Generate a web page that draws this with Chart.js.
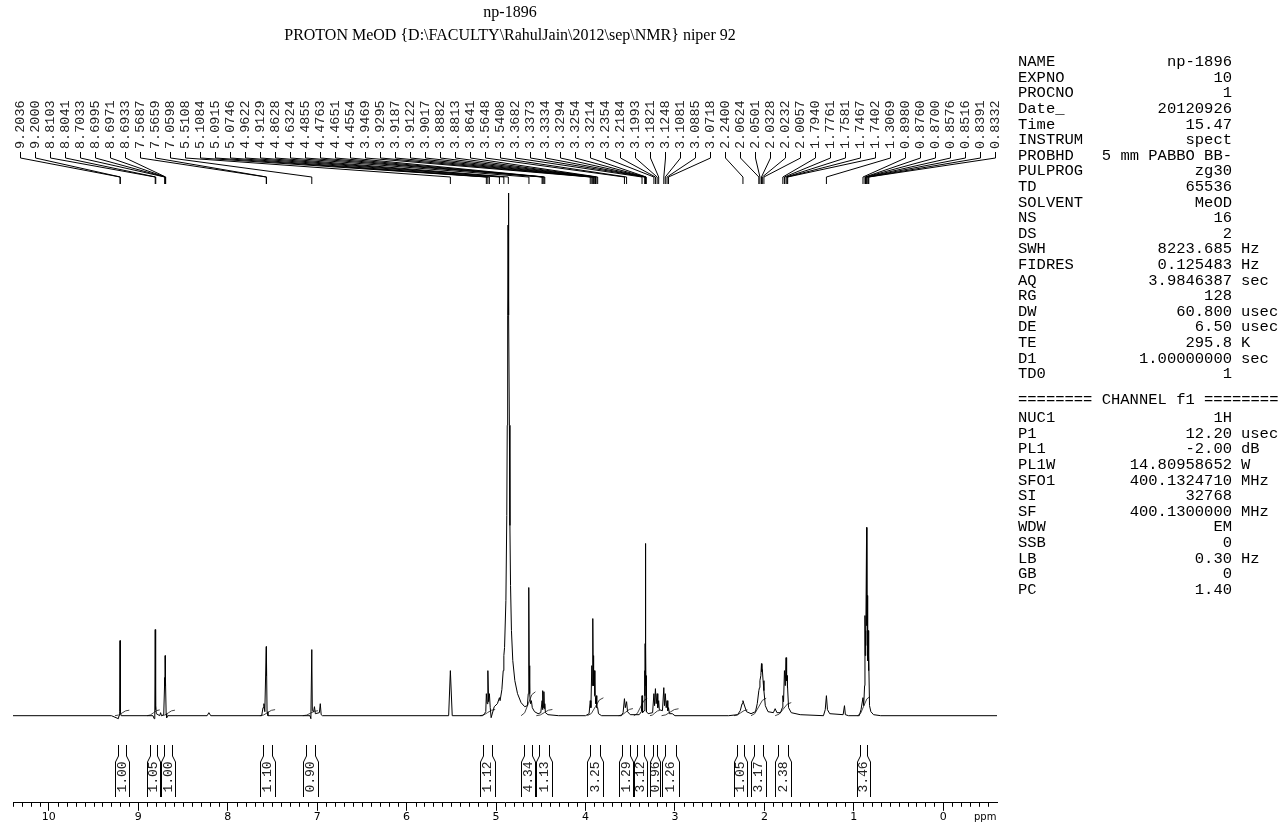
<!DOCTYPE html>
<html>
<head>
<meta charset="UTF-8">
<title>np-1896 PROTON MeOD</title>
<script src="https://cdn.jsdelivr.net/npm/chart.js"></script>
<style>
  html, body { margin: 0; padding: 0; background: #fff; }
</style>
</head>
<body>
<canvas id="nmr" width="1282" height="826"></canvas>
<script>
// ---- spectrum vertices (ppm / intensity) ----
const shiftPpm = [
  10.40, 9.30, 9.222, 9.215, 9.2075, 9.2036, 9.2018, 9.2000, 9.196, 9.19,
  8.835, 8.822, 8.815, 8.8103, 8.807, 8.8041, 8.798, 8.76, 8.75, 8.74, 8.715, 8.7033, 8.7010, 8.6995, 8.6971, 8.6950, 8.6933, 8.688, 8.682, 8.67,
  8.23, 8.21, 8.19, 7.62, 7.605, 7.595, 7.585, 7.5687, 7.5673, 7.5659, 7.56, 7.55,
  7.08, 7.07, 7.0598, 7.054, 7.04, 7.03, 7.02, 6.975, 6.965, 6.955, 6.94,
  5.53, 5.5108, 5.49,
  5.15, 5.13, 5.115, 5.1084, 5.100, 5.0915, 5.083, 5.0746, 5.065, 5.055, 5.02, 4.985, 4.9622, 4.955, 4.935, 4.92, 4.9129, 4.905,
  4.89, 4.88, 4.875, 4.870, 4.866, 4.8628, 4.860, 4.856, 4.851, 4.845, 4.838, 4.828, 4.813, 4.79, 4.76, 4.72, 4.68,
  4.65, 4.64, 4.636, 4.6324, 4.629, 4.624, 4.615, 4.605, 4.595, 4.57, 4.53, 4.50, 4.4855, 4.481, 4.4763, 4.471, 4.4651, 4.460, 4.4554, 4.448, 4.42, 4.30,
  4.00, 3.96, 3.9469, 3.94, 3.9295, 3.924, 3.9187, 3.915, 3.9122, 3.907, 3.9017, 3.895, 3.8882, 3.885, 3.8813, 3.874, 3.8641, 3.855, 3.82,
  3.60, 3.58, 3.5648, 3.555, 3.5408, 3.53, 3.50,
  3.40, 3.375, 3.3682, 3.362, 3.345, 3.3373, 3.3355, 3.3334, 3.3314, 3.3294, 3.3274, 3.3254, 3.3234, 3.3214, 3.316, 3.30,
  3.25, 3.2354, 3.228, 3.2184, 3.210, 3.1993, 3.192, 3.1821, 3.175, 3.14, 3.1248, 3.117, 3.1081, 3.098, 3.0885, 3.080, 3.0718, 3.062, 3.03, 3.00,
  2.40, 2.30, 2.27, 2.25, 2.2400, 2.23, 2.20, 2.15, 2.10, 2.08, 2.0624, 2.055, 2.0501, 2.04, 2.0328, 2.028, 2.0232, 2.015, 2.0057, 1.99, 1.96,
  1.90, 1.88, 1.86, 1.82, 1.80, 1.7940, 1.786, 1.7761, 1.767, 1.7581, 1.752, 1.7467, 1.7440, 1.7402, 1.73, 1.70, 1.60,
  1.34, 1.32, 1.3069, 1.295, 1.27, 1.12, 1.105, 1.095, 1.06,
  0.94, 0.92, 0.8980, 0.89, 0.8800, 0.8760, 0.8730, 0.8700, 0.865, 0.8576, 0.8546, 0.8516, 0.846, 0.8391, 0.836, 0.8332, 0.825, 0.81, 0.78, 0.70, -0.60
];
const intensity = [
  0, 0, -3, 0, 4, 75, 14, 16, 3, 0,
  0, -3, 3, 86, 6, 10, 2, 0, 3, 0, 1, 38, 30, 60, 54, 30, 34, 2, -2, 0,
  0, 3, 0, 0, 8, 12, 4, 69, 40, 58, 4, 0,
  0, -3, 66, 5, 4, 9, 2, 3, 12, 1, 0,
  0, 45, 0,
  0, 2, 4, 22, 12, 45, 14, 22, 8, -2, 9, 12, 18, 15, 26, 45, 60, 68,
  115, 200, 290, 400, 490, 522, 490, 400, 290, 190, 130, 85, 55, 35, 22, 13, 9,
  10, 22, 55, 128, 50, 22, 12, 15, 8, 4, 2, 3, 15, 6, 25, 8, 24, 7, 12, 3, 1, 0,
  0, 2, 15, 8, 50, 30, 97, 55, 60, 30, 45, 20, 18, 12, 20, 8, 8, 2, 0,
  0, 3, 17, 8, 14, 4, 1,
  1, 4, 20, 3, 5, 45, 20, 72, 30, 172, 30, 68, 18, 40, 4, 2,
  3, 22, 10, 27, 12, 22, 8, 15, 6, 5, 28, 10, 22, 8, 15, 5, 8, 2, 2, 0,
  0, 1, 5, 12, 15, 12, 4, 2, 4, 12, 25, 28, 35, 40, 52, 44, 46, 35, 25, 10, 4,
  3, 7, 3, 3, 8, 20, 14, 45, 30, 58, 35, 40, 28, 30, 8, 3, 1,
  0, 6, 20, 6, 2, 1, 10, 1, 0,
  0, 6, 18, 10, 30, 100, 60, 85, 70, 188, 90, 120, 55, 85, 45, 60, 10, 4, 1, 0, 0
];

// ---- picked peaks ----
const peakPpm = [
  9.2036, 9.2000, 8.8103, 8.8041, 8.7033, 8.6995, 8.6971, 8.6933, 7.5687, 7.5659, 7.0598,
  5.5108, 5.1084, 5.0915, 5.0746, 4.9622, 4.9129, 4.8628, 4.6324, 4.4855, 4.4763, 4.4651, 4.4554,
  3.9469, 3.9295, 3.9187, 3.9122, 3.9017, 3.8882, 3.8813, 3.8641, 3.5648, 3.5408,
  3.3682, 3.3373, 3.3334, 3.3294, 3.3254, 3.3214, 3.2354, 3.2184, 3.1993, 3.1821,
  3.1248, 3.1081, 3.0885, 3.0718, 2.2400, 2.0624, 2.0501, 2.0328, 2.0232, 2.0057,
  1.7940, 1.7761, 1.7581, 1.7467, 1.7402, 1.3069, 0.8980, 0.8760, 0.8700, 0.8576, 0.8516, 0.8391, 0.8332
];

// ---- integrals ----
const integralFrom  = [9.26, 8.90, 8.74, 7.64, 7.16, 5.18, 4.72, 4.55, 3.98, 3.63, 3.46, 3.28, 3.15, 2.34, 2.15, 1.88, 0.96];
const integralTo    = [9.10, 8.76, 8.59, 7.47, 6.99, 5.01, 4.56, 4.37, 3.80, 3.47, 3.31, 3.17, 2.96, 2.19, 1.98, 1.70, 0.82];
const integralValue = [1.00, 1.05, 1.00, 1.10, 0.90, 1.12, 4.34, 1.13, 3.25, 1.29, 3.12, 0.96, 1.26, 1.05, 3.17, 2.38, 3.46];

const axisTicks = [10, 9, 8, 7, 6, 5, 4, 3, 2, 1, 0];

const titleLines = ['np-1896', 'PROTON MeOD {D:\\FACULTY\\RahulJain\\2012\\sep\\NMR} niper 92'];

// ---- acquisition parameters ----
const acqNames  = ['NAME', 'EXPNO', 'PROCNO', 'Date_', 'Time', 'INSTRUM', 'PROBHD', 'PULPROG', 'TD', 'SOLVENT', 'NS', 'DS',
                   'SWH', 'FIDRES', 'AQ', 'RG', 'DW', 'DE', 'TE', 'D1', 'TD0'];
const acqValues = ['np-1896', '10', '1', '20120926', '15.47', 'spect', '5 mm PABBO BB-', 'zg30', '65536', 'MeOD', '16', '2',
                   '8223.685', '0.125483', '3.9846387', '128', '60.800', '6.50', '295.8', '1.00000000', '1'];
const acqUnits  = ['', '', '', '', '', '', '', '', '', '', '', '',
                   'Hz', 'Hz', 'sec', '', 'usec', 'usec', 'K', 'sec', ''];
const chanNames  = ['NUC1', 'P1', 'PL1', 'PL1W', 'SFO1', 'SI', 'SF', 'WDW', 'SSB', 'LB', 'GB', 'PC'];
const chanValues = ['1H', '12.20', '-2.00', '14.80958652', '400.1324710', '32768', '400.1300000', 'EM', '0', '0.30', '0', '1.40'];
const chanUnits  = ['', 'usec', 'dB', 'W', 'MHz', '', 'MHz', '', '', 'Hz', '', ''];

// build datasets
const spectrumPoints = shiftPpm.map((p, i) => ({ x: p, y: intensity[i] }));
const integralPoints = [];
integralFrom.forEach((a, i) => {
  const b = integralTo[i], h = integralValue[i] * 5.5, d = a - b;
  integralPoints.push({ x: a, y: 0 }, { x: a - d * 0.25, y: h * 0.12 }, { x: a - d * 0.5, y: h * 0.5 },
                      { x: a - d * 0.75, y: h * 0.88 }, { x: b, y: h }, { x: b - 0.001, y: null });
});

const nmrDecor = {
  id: 'nmrDecor',
  afterDraw(chart) {
    const ctx = chart.ctx;
    const xs = chart.scales.x;
    const bottom = chart.chartArea.bottom;
    ctx.save();
    ctx.fillStyle = '#000';
    ctx.strokeStyle = '#000';
    ctx.lineWidth = 1;

    // title
    ctx.font = '16px "Liberation Serif"';
    ctx.textAlign = 'center';
    ctx.textBaseline = 'middle';
    ctx.fillText(titleLines[0], 510, 13);
    ctx.fillText(titleLines[1], 510, 36);

    // minor ticks every 0.1 ppm
    ctx.beginPath();
    for (let k = -5; k <= 104; k++) {
      if (k % 10 === 0) continue;
      const px = Math.round(xs.getPixelForValue(k / 10)) + 0.5;
      ctx.moveTo(px, bottom);
      ctx.lineTo(px, bottom + 4);
    }
    ctx.stroke();

    // ppm unit
    ctx.font = '10px "DejaVu Sans"';
    ctx.textAlign = 'left';
    ctx.fillText('ppm', 974, 817);

    // peak labels and leader lines
    ctx.font = '13.5px "Liberation Mono"';
    ctx.fillStyle = '#222';
    peakPpm.forEach((p, i) => {
      const lx = 20 + i * 15;
      const px = xs.getPixelForValue(p);
      ctx.beginPath();
      ctx.moveTo(lx + 0.5, 152);
      ctx.lineTo(lx + 0.5, 158);
      ctx.lineTo(px, 177);
      ctx.lineTo(px, 184);
      ctx.stroke();
      ctx.save();
      ctx.translate(lx + 0.5, 149);
      ctx.rotate(-Math.PI / 2);
      ctx.textAlign = 'left';
      ctx.textBaseline = 'middle';
      ctx.fillText(p.toFixed(4), 0, 0);
      ctx.restore();
    });

    // integral brackets
    ctx.font = '13px "Liberation Mono"';
    integralFrom.forEach((a, i) => {
      const xa = Math.round(xs.getPixelForValue(a)) + 0.5;
      const xb = Math.round(xs.getPixelForValue(integralTo[i])) + 0.5;
      ctx.beginPath();
      ctx.moveTo(xa, 797); ctx.lineTo(xa, 762); ctx.lineTo(xa + 3, 756); ctx.lineTo(xa + 3, 745);
      ctx.moveTo(xb, 797); ctx.lineTo(xb, 762); ctx.lineTo(xb - 3, 756); ctx.lineTo(xb - 3, 745);
      ctx.stroke();
      ctx.save();
      ctx.translate((xa + xb) / 2, 777);
      ctx.rotate(-Math.PI / 2);
      ctx.textAlign = 'center';
      ctx.textBaseline = 'middle';
      ctx.fillText(integralValue[i].toFixed(2), 0, 0);
      ctx.restore();
    });

    // parameter table
    ctx.font = '15.5px "Liberation Mono"';
    ctx.fillStyle = '#000';
    ctx.textBaseline = 'middle';
    const row = (name, val, unit, y) => {
      ctx.textAlign = 'left';  ctx.fillText(name, 1018, y);
      ctx.textAlign = 'right'; ctx.fillText(val, 1232, y);
      if (unit) { ctx.textAlign = 'left'; ctx.fillText(unit, 1241, y); }
    };
    acqNames.forEach((n, i) => row(n, acqValues[i], acqUnits[i], 62 + i * 15.6));
    ctx.textAlign = 'left';
    ctx.fillText('======== CHANNEL f1 ========', 1018, 400);
    chanNames.forEach((n, i) => row(n, chanValues[i], chanUnits[i], 418 + i * 15.6));
    ctx.restore();
  }
};

new Chart(document.getElementById('nmr'), {
  type: 'line',
  data: {
    datasets: [
      { data: spectrumPoints, borderColor: '#000', borderWidth: 1, pointRadius: 0, tension: 0 },
      { data: integralPoints, borderColor: '#444', borderWidth: 1, pointRadius: 0, tension: 0, spanGaps: false }
    ]
  },
  options: {
    responsive: false,
    animation: false,
    devicePixelRatio: 1,
    layout: { padding: { left: 13, right: 285, top: 180, bottom: 2 } },
    scales: {
      x: {
        type: 'linear',
        reverse: true,
        min: -0.6,
        max: 10.4,
        afterBuildTicks: s => { s.ticks = axisTicks.map(v => ({ value: v })); },
        ticks: { autoSkip: false, maxRotation: 0, padding: 0, color: '#000', font: { family: 'DejaVu Sans', size: 11 } },
        grid: { drawOnChartArea: false, drawTicks: true, tickLength: 8, color: '#000' },
        border: { display: true, color: '#000', width: 1 }
      },
      y: { display: false, min: -87, max: 535 }
    },
    plugins: { legend: { display: false }, tooltip: { enabled: false } }
  },
  plugins: [nmrDecor]
});
</script>
</body>
</html>
